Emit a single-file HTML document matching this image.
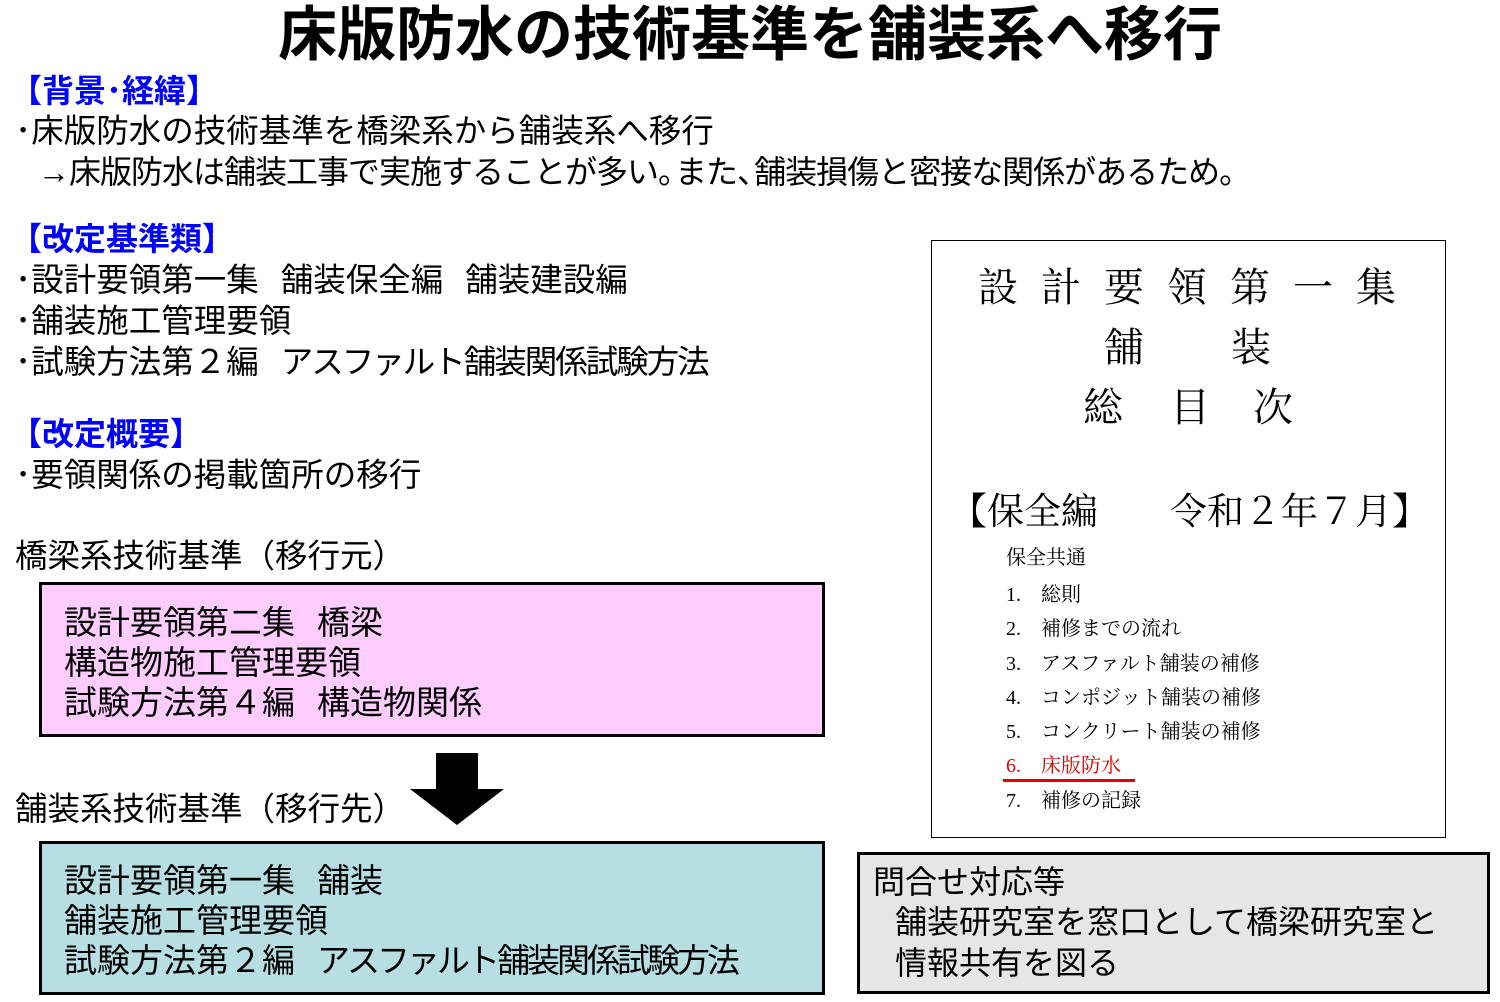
<!DOCTYPE html>
<html><head><meta charset="utf-8">
<style>
html,body{margin:0;padding:0;background:#fff;}
body{width:1500px;height:1002px;position:relative;overflow:hidden;font-family:"Liberation Sans","Noto Sans CJK JP",sans-serif;color:#000;}
.a{position:absolute;white-space:nowrap;line-height:1;}
.h{color:#0000ff;font-weight:bold;font-size:32px;}
.t{font-size:32.5px;}
.box{position:absolute;border:3px solid #000;box-sizing:border-box;}
.s{font-family:"Liberation Serif","Noto Serif CJK SC","Noto Sans CJK JP",serif;}
.sp{display:inline-block;width:22px;}
.p{letter-spacing:-15px;}
</style></head><body>
<div class="a" style="left:0;width:1500px;text-align:center;top:6px;font-size:59px;font-weight:bold;">床版防水の技術基準を舗装系へ移行</div>

<div class="a h" style="left:10px;top:75px;">【背景･経緯】</div>
<div class="a t" style="left:15px;top:115px;">･床版防水の技術基準を橋梁系から舗装系へ移行</div>
<div class="a t" style="left:38px;top:156px;font-size:32px;letter-spacing:-1px;">→床版防水は舗装工事で実施することが多い<span class="p">。</span>また<span class="p">、</span>舗装損傷と密接な関係があるため<span class="p">。</span></div>

<div class="a h" style="left:10px;top:223px;">【改定基準類】</div>
<div class="a t" style="left:15px;top:264px;">･設計要領第一集<span class="sp"></span>舗装保全編<span class="sp"></span>舗装建設編</div>
<div class="a t" style="left:15px;top:305px;">･舗装施工管理要領</div>
<div class="a t" style="left:15px;top:346px;">･試験方法第２編<span class="sp"></span><span style="letter-spacing:-2px">アスファルト舗装関係試験方法</span></div>

<div class="a h" style="left:10px;top:418px;">【改定概要】</div>
<div class="a t" style="left:15px;top:459px;">･要領関係の掲載箇所の移行</div>

<div class="a t" style="left:15px;top:540px;">橋梁系技術基準（移行元）</div>
<div class="box" style="left:39px;top:582px;width:786px;height:155px;background:#ffccff;"></div>
<div class="a" style="left:64px;top:603px;font-size:33px;line-height:40px;">設計要領第二集<span class="sp"></span>橋梁<br>構造物施工管理要領<br>試験方法第４編<span class="sp"></span>構造物関係</div>

<svg class="a" style="left:405px;top:750px;" width="105" height="80"><polygon points="31,3 73,3 73,39 99,39 52,75 5,39 31,39" fill="#000"/></svg>

<div class="a t" style="left:15px;top:793px;">舗装系技術基準（移行先）</div>
<div class="box" style="left:39px;top:841px;width:786px;height:154px;background:#b7dfe3;"></div>
<div class="a" style="left:64px;top:861px;font-size:33px;line-height:40px;">設計要領第一集<span class="sp"></span>舗装<br>舗装施工管理要領<br>試験方法第２編<span class="sp"></span><span style="letter-spacing:-3px">アスファルト舗装関係試験方法</span></div>

<div class="box" style="left:931px;top:240px;width:515px;height:598px;border-width:1.5px;"></div>
<div class="a s" style="left:978px;top:268px;font-size:40px;letter-spacing:23px;">設計要領第一集</div>
<div class="a s" style="left:1104px;top:328px;font-size:40px;">舗</div>
<div class="a s" style="left:1231px;top:328px;font-size:40px;">装</div>
<div class="a s" style="left:1083px;top:388px;font-size:40px;">総</div>
<div class="a s" style="left:1170px;top:388px;font-size:40px;">目</div>
<div class="a s" style="left:1253px;top:388px;font-size:40px;">次</div>
<div class="a s" style="left:950px;top:494px;font-size:37px;">【保全編</div>
<div class="a s" style="left:1170px;top:494px;font-size:37px;">令和２年７月】</div>
<div class="a s" style="left:1006px;top:548px;font-size:20px;">保全共通</div>
<div class="a s" style="left:1006px;top:578px;font-size:20px;line-height:34.3px;">1.　総則<br>2.　補修までの流れ<br>3.　アスファルト舗装の補修<br>4.　コンポジット舗装の補修<br>5.　コンクリート舗装の補修<br><span style="color:#e00000">6.　床版防水</span><br>7.　補修の記録</div>
<div class="a" style="left:1003px;top:779px;width:132px;height:3px;background:#e00000;"></div>

<div class="box" style="left:857px;top:852px;width:633px;height:142px;background:#e6e6e6;"></div>
<div class="a t" style="left:873px;top:866px;font-size:32px;">問合せ対応等</div>
<div class="a t" style="left:895px;top:906px;font-size:32px;">舗装研究室を窓口として橋梁研究室と</div>
<div class="a t" style="left:895px;top:947px;font-size:32px;">情報共有を図る</div>
</body></html>
